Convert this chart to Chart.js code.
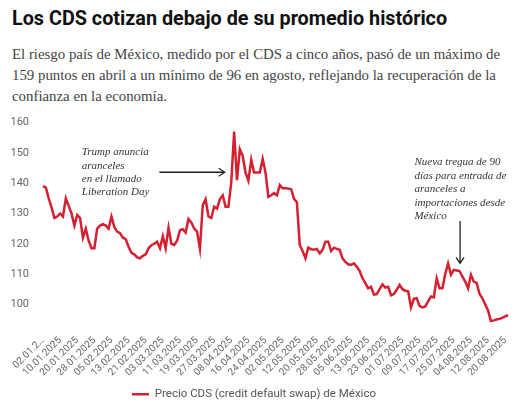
<!DOCTYPE html>
<html><head><meta charset="utf-8">
<script src="https://cdn.jsdelivr.net/npm/chart.js@4/dist/chart.umd.min.js"></script>
<style>
html,body{margin:0;padding:0;background:#fff;width:520px;height:406px;overflow:hidden}
#title{position:absolute;left:12px;top:7px;font-family:Roboto,sans-serif;font-weight:bold;font-size:19.8px;color:#111;white-space:nowrap}
#sub{position:absolute;left:12px;top:44px;font-family:"Liberation Serif",serif;font-size:14.85px;color:#444;line-height:21px;white-space:nowrap}
#wrap{position:absolute;left:0;top:110px;width:520px;height:300px}
</style></head>
<body>
<div id="title">Los CDS cotizan debajo de su promedio histórico</div>
<div id="sub">El riesgo país de México, medido por el CDS a cinco años, pasó de un máximo de<br>159 puntos en abril a un mínimo de 96 en agosto, reflejando la recuperación de la<br>confianza en la economía.</div>
<div id="wrap"><canvas id="c"></canvas></div>
<script>
const dates = [
'02.01.2025','03.01.2025','06.01.2025','07.01.2025','08.01.2025','09.01.2025','10.01.2025','13.01.2025','14.01.2025','15.01.2025','16.01.2025','17.01.2025','20.01.2025','21.01.2025','22.01.2025','23.01.2025','24.01.2025','27.01.2025','28.01.2025','29.01.2025','30.01.2025','31.01.2025',
'03.02.2025','04.02.2025','05.02.2025','06.02.2025','07.02.2025','10.02.2025','11.02.2025','12.02.2025','13.02.2025','14.02.2025','17.02.2025','18.02.2025','19.02.2025','20.02.2025','21.02.2025','24.02.2025','25.02.2025','26.02.2025','27.02.2025','28.02.2025',
'03.03.2025','04.03.2025','05.03.2025','06.03.2025','07.03.2025','10.03.2025','11.03.2025','12.03.2025','13.03.2025','14.03.2025','17.03.2025','18.03.2025','19.03.2025','20.03.2025','21.03.2025','24.03.2025','25.03.2025','26.03.2025','27.03.2025','28.03.2025','31.03.2025',
'01.04.2025','02.04.2025','07.04.2025','08.04.2025','09.04.2025','10.04.2025','11.04.2025','14.04.2025','15.04.2025','16.04.2025','17.04.2025','18.04.2025','21.04.2025','22.04.2025','23.04.2025','24.04.2025','25.04.2025','28.04.2025','29.04.2025','30.04.2025',
'01.05.2025','02.05.2025','05.05.2025','06.05.2025','07.05.2025','08.05.2025','09.05.2025','12.05.2025','13.05.2025','14.05.2025','15.05.2025','16.05.2025','19.05.2025','20.05.2025','21.05.2025','22.05.2025','23.05.2025','26.05.2025','27.05.2025','28.05.2025','29.05.2025','30.05.2025',
'02.06.2025','03.06.2025','04.06.2025','05.06.2025','06.06.2025','09.06.2025','10.06.2025','11.06.2025','12.06.2025','13.06.2025','16.06.2025','17.06.2025','18.06.2025','19.06.2025','20.06.2025','23.06.2025','24.06.2025','25.06.2025','26.06.2025','27.06.2025','30.06.2025',
'01.07.2025','02.07.2025','03.07.2025','04.07.2025','07.07.2025','08.07.2025','09.07.2025','10.07.2025','11.07.2025','14.07.2025','15.07.2025','16.07.2025','17.07.2025','18.07.2025','21.07.2025','22.07.2025','23.07.2025','24.07.2025','25.07.2025','28.07.2025','29.07.2025','30.07.2025','31.07.2025',
'01.08.2025','04.08.2025','05.08.2025','06.08.2025','07.08.2025','08.08.2025','11.08.2025','12.08.2025','13.08.2025','14.08.2025','15.08.2025','18.08.2025','19.08.2025','20.08.2025','21.08.2025'
];
const cds = [
139,138.5,135,132,128.5,129,130,129,135,132.5,130,126,129.5,128.5,122,125,121,118.5,118.5,125,126,126.5,
126,125,129,125.5,124,123.5,122,121.5,119,117,116.5,115.5,115.2,116,116.5,118.5,119.5,120,120.7,118.5,
122.5,118.5,125.3,120,119.6,121,124.5,124.8,123.7,128.2,127,125,124,118.3,132.7,134.7,129,128.5,132.2,131.6,134.7,
136,132.2,132.2,140.3,157,141,151.2,149,143.5,140.8,147.7,143.5,143.5,143.5,148,143.5,135.5,136,136.7,136,
139.4,138.3,138.3,138.2,138,134.8,133.7,119.6,117.6,115.2,118.7,118.2,118,118.3,116.8,118,120.7,120.7,117.6,118.7,118.3,118,
115.2,114,113.2,113,113.5,112.4,111,108.6,107,105.3,105.8,103.2,103.4,105,106.6,105.5,105.8,103,103.4,104.8,106.4,
105,104.5,104.3,99,101.8,102,99.5,99,99.3,101,102.6,102.3,108.6,105.3,105.3,110,113.5,109.8,111.4,111.2,111,109.2,107.5,
105.3,109.8,107.5,107.1,103.5,102,100,98,94.5,94.7,95,95.2,95.5,96,96.4
];
const yTicks = [100,110,120,130,140,150,160];
const seriesName = 'Precio CDS (credit default swap) de México';
const note1 = ['Trump anuncia','aranceles','en el llamado','Liberation Day'];
const note2 = ['Nueva tregua de 90','días para entrada de','aranceles a','importaciones desde','México'];

const RED = '#d42030';

const notes = {
  id:'notes',
  afterDraw(chart){
    const ctx = chart.ctx, xs = chart.scales.x, ys = chart.scales.y;
    ctx.save();
    ctx.fillStyle = '#333';
    ctx.font = 'italic 11px "Liberation Serif", serif';
    ctx.textBaseline = 'middle';
    ctx.textAlign = 'left';
    let x1 = xs.getPixelForValue(13.6), y1 = ys.getPixelForValue(150.2);
    note1.forEach((t,i)=>ctx.fillText(t, x1, y1 + i*13.4));
    let x2 = xs.getPixelForValue(130.2), y2 = ys.getPixelForValue(146.9);
    note2.forEach((t,i)=>ctx.fillText(t, x2, y2 + i*13.5));
    ctx.strokeStyle = '#222';
    ctx.lineWidth = 1.3;
    const ax0 = xs.getPixelForValue(40.8), ax1 = xs.getPixelForValue(63.7), ay = ys.getPixelForValue(143.6);
    ctx.beginPath(); ctx.moveTo(ax0, ay); ctx.lineTo(ax1, ay);
    ctx.moveTo(ax1-6, ay-4); ctx.lineTo(ax1, ay); ctx.lineTo(ax1-6, ay+4); ctx.stroke();
    const bx = xs.getPixelForValue(146.2), by0 = ys.getPixelForValue(127.5), by1 = ys.getPixelForValue(113.5);
    ctx.beginPath(); ctx.moveTo(bx, by0); ctx.lineTo(bx, by1);
    ctx.moveTo(bx-4, by1-6); ctx.lineTo(bx, by1); ctx.lineTo(bx+4, by1-6); ctx.stroke();
    ctx.restore();
  }
};

new Chart(document.getElementById('c'), {
  type:'line',
  data:{labels:dates, datasets:[{label:seriesName, data:cds, borderColor:RED, backgroundColor:RED, borderWidth:2.5, pointRadius:0, tension:0}]},
  options:{
    responsive:true, maintainAspectRatio:false, animation:false,
    layout:{padding:{left:0,right:12,top:8,bottom:0}},
    plugins:{
      legend:{position:'bottom', labels:{usePointStyle:true, pointStyle:'line', pointStyleWidth:17, boxHeight:11, padding:8, color:'#555', font:{family:'Roboto', size:11.5}}},
      tooltip:{enabled:false}
    },
    scales:{
      x:{grid:{display:false}, border:{display:false},
        afterFit(s){ s.height = 58; },
        ticks:{autoSkip:false, maxRotation:45, minRotation:45, padding:4, color:'#666', font:{family:'Roboto', size:10},
          callback(v,i){ if(i%6!==0) return null; const l=dates[i]; return i===0 ? l.slice(0,7)+'…' : l; }}},
      y:{min:94, max:160, grid:{display:false}, border:{display:false},
        afterFit(s){ s.width = 43; },
        afterBuildTicks(s){ s.ticks = yTicks.map(v=>({value:v})); },
        ticks:{padding:6, color:'#666', font:{family:'Roboto', size:11}}}
    }
  },
  plugins:[notes]
});
</script>
</body></html>
